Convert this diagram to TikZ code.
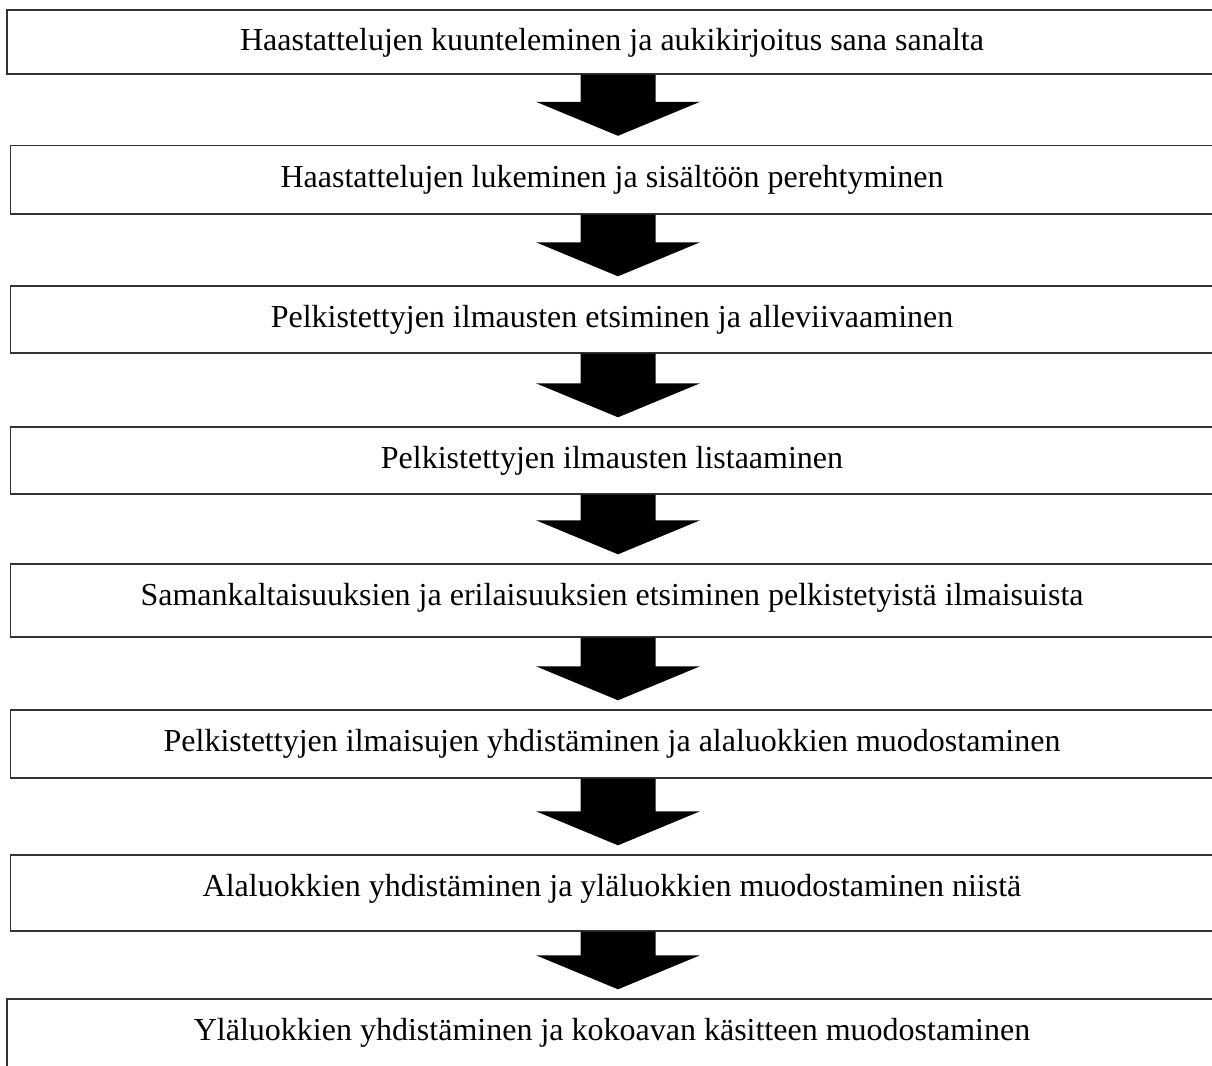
\documentclass[tikz,border=0pt]{standalone}
\usepackage{fontspec}
\setmainfont{Liberation Serif}
\usetikzlibrary{calc}
\tikzset{
  boxstyle/.style={draw=black!80, line width=1.4pt, rectangle, inner sep=0pt, fill=white},
  labelstyle/.style={anchor=base, inner sep=0pt, font=\fontsize{32}{38}\selectfont},
  arrowfill/.style={fill=black},
}
\newcommand\blockarrow[2]{%
  \path (#1.south -| ax) coordinate (s) (#2.north -| ax) coordinate (e);
  \fill[arrowfill] ([xshift=-37.5pt]s) -- ([xshift=37.5pt]s)
     -- ([xshift=37.5pt,yshift=43pt]e) -- ([xshift=82pt,yshift=43pt]e)
     -- ([yshift=9pt]e)
     -- ([xshift=-82pt,yshift=43pt]e) -- ([xshift=-37.5pt,yshift=43pt]e) -- cycle;}
\begin{document}
\begin{tikzpicture}[x=1pt,y=-1pt]
\useasboundingbox (0,0) rectangle (1212,1065);
\clip (0,0) rectangle (1212,1065);
\coordinate (ax) at (618,0);
% boxes
\node[boxstyle, minimum width=1209pt, minimum height=64pt] (b1) at (611.5,42) {};
\node[boxstyle, minimum width=1205.5pt, minimum height=68.5pt] (b2) at (613.25,179.75) {};
\node[boxstyle, minimum width=1205.5pt, minimum height=67pt] (b3) at (613.25,319.5) {};
\node[boxstyle, minimum width=1205.5pt, minimum height=67pt] (b4) at (613.25,460.5) {};
\node[boxstyle, minimum width=1205.5pt, minimum height=73pt] (b5) at (613.25,600.5) {};
\node[boxstyle, minimum width=1205.5pt, minimum height=68pt] (b6) at (613.25,744) {};
\node[boxstyle, minimum width=1205.5pt, minimum height=76pt] (b7) at (613.25,893) {};
\node[boxstyle, minimum width=1209pt, minimum height=81pt] (b8) at (611.5,1039.5) {};
% labels
\node[labelstyle] (t1) at (612,51) {Haastattelujen kuunteleminen ja aukikirjoitus sana sanalta};
\node[labelstyle] (t2) at (612,187) {Haastattelujen lukeminen ja sisältöön perehtyminen};
\node[labelstyle] (t3) at (612,327) {Pelkistettyjen ilmausten etsiminen ja alleviivaaminen};
\node[labelstyle] (t4) at (612,468) {Pelkistettyjen ilmausten listaaminen};
\node[labelstyle] (t5) at (612,605) {Samankaltaisuuksien ja erilaisuuksien etsiminen pelkistetyistä ilmaisuista};
\node[labelstyle] (t6) at (612,751) {Pelkistettyjen ilmaisujen yhdistäminen ja alaluokkien muodostaminen};
\node[labelstyle] (t7) at (612,896) {Alaluokkien yhdistäminen ja yläluokkien muodostaminen niistä};
\node[labelstyle] (t8) at (612,1040) {Yläluokkien yhdistäminen ja kokoavan käsitteen muodostaminen};
% arrows
\blockarrow{b1}{b2}
\blockarrow{b2}{b3}
\blockarrow{b3}{b4}
\blockarrow{b4}{b5}
\blockarrow{b5}{b6}
\blockarrow{b6}{b7}
\blockarrow{b7}{b8}
\end{tikzpicture}
\end{document}
